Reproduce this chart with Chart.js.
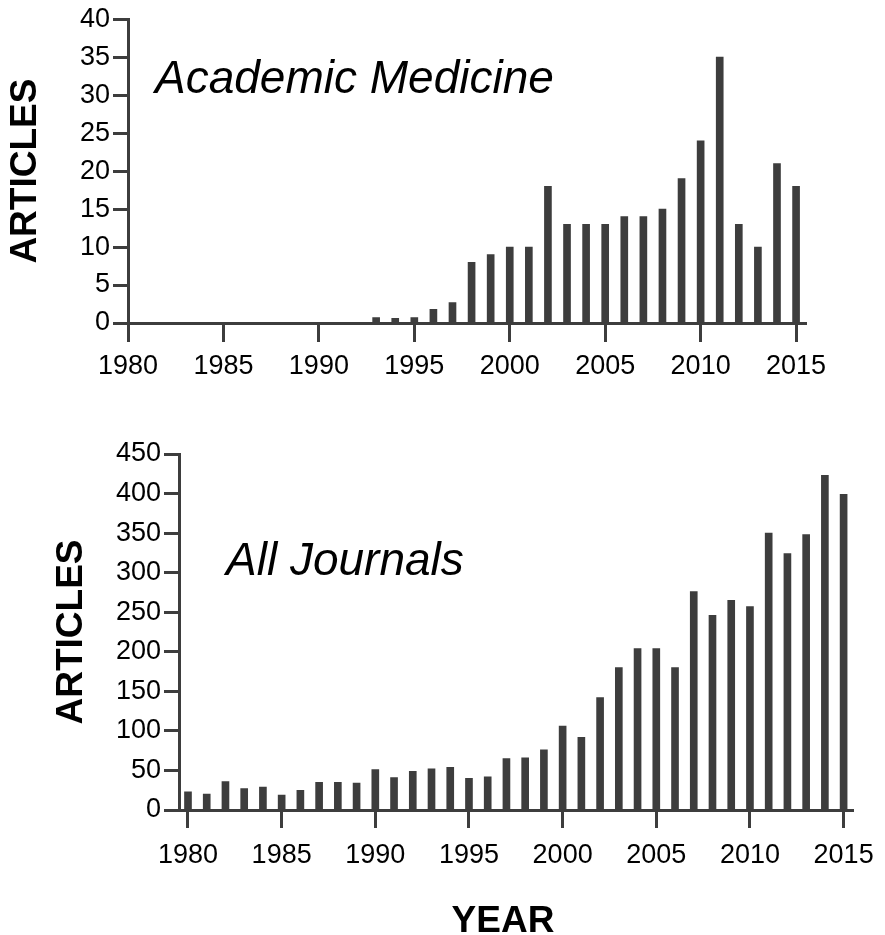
<!DOCTYPE html>
<html>
<head>
<meta charset="utf-8">
<script src="https://cdn.jsdelivr.net/npm/chart.js@4.4.0/dist/chart.umd.min.js"></script>
<style>
  html, body { margin: 0; padding: 0; background: #fff; }
  #wrap { position: relative; width: 885px; height: 935px; }
  canvas { position: absolute; left: 0; }
  #top { top: 0; }
  #bottom { top: 420px; }
</style>
</head>
<body>
<div id="wrap">
  <canvas id="top" width="885" height="390"></canvas>
  <canvas id="bottom" width="885" height="515"></canvas>
</div>
<script>
// Academic Medicine, articles per year
const acadYears = [1993, 1994, 1995, 1996, 1997, 1998, 1999, 2000, 2001, 2002, 2003, 2004,
                   2005, 2006, 2007, 2008, 2009, 2010, 2011, 2012, 2013, 2014, 2015];
const acadArticles = [0.7, 0.6, 0.7, 1.8, 2.7, 8, 9, 10, 10, 18, 13, 13,
                      13, 14, 14, 15, 19, 24, 35, 13, 10, 21, 18];

// All journals, articles per year
const allYears = [1980, 1981, 1982, 1983, 1984, 1985, 1986, 1987, 1988, 1989, 1990, 1991,
                  1992, 1993, 1994, 1995, 1996, 1997, 1998, 1999, 2000, 2001, 2002, 2003,
                  2004, 2005, 2006, 2007, 2008, 2009, 2010, 2011, 2012, 2013, 2014, 2015];
const allArticles = [23, 20, 36, 27, 29, 19, 25, 35, 35, 34, 51, 41,
                     49, 52, 54, 40, 42, 65, 66, 76, 106, 92, 142, 180,
                     204, 204, 180, 276, 246, 265, 257, 350, 324, 348, 423, 399];

// tick labels
const yearTicks = [1980, 1985, 1990, 1995, 2000, 2005, 2010, 2015];
const acadTicks = [0, 5, 10, 15, 20, 25, 30, 35, 40];
const allTicks = [0, 50, 100, 150, 200, 250, 300, 350, 400, 450];

const ink = '#3d3d3d';
const family = '"Liberation Sans", Arial, Helvetica, sans-serif';
Chart.defaults.font.family = family;
Chart.defaults.color = '#000';

// free text written on the canvas (panel names, x axis name)
const captions = {
  id: 'captions',
  afterDraw(chart, args, opts) {
    const ctx = chart.ctx;
    ctx.save();
    ctx.fillStyle = '#000';
    ctx.textBaseline = 'alphabetic';
    for (const c of opts.items) {
      ctx.font = c.font + ' ' + family;
      ctx.textAlign = c.align || 'left';
      ctx.fillText(c.text, c.x, c.y);
    }
    ctx.restore();
  }
};

function makeChart(id, years, values, o) {
  return new Chart(document.getElementById(id), {
    type: 'bar',
    data: {
      datasets: [{
        data: years.map((y, i) => ({ x: y, y: values[i] })),
        backgroundColor: ink,
        barThickness: 7
      }]
    },
    options: {
      responsive: false,
      animation: false,
      devicePixelRatio: 1,
      layout: { padding: { top: o.padTop, right: o.padRight, left: 0, bottom: 0 } },
      plugins: {
        legend: { display: false },
        tooltip: { enabled: false },
        captions: { items: o.captions }
      },
      scales: {
        x: {
          type: 'linear',
          min: o.xMin,
          max: o.xMax,
          offset: false,
          afterBuildTicks: s => { s.ticks = yearTicks.map(v => ({ value: v })); },
          afterFit: s => { s.height = o.xHeight; },
          grid: { offset: false, drawOnChartArea: false, tickLength: o.xTickLen, tickColor: ink, tickWidth: 3 },
          border: { color: ink, width: 3 },
          ticks: {
            font: { size: 27 }, padding: o.xTickPad, maxRotation: 0, autoSkip: false,
            callback: v => String(v)
          }
        },
        y: {
          min: 0,
          max: o.yTicks[o.yTicks.length - 1],
          afterBuildTicks: s => { s.ticks = o.yTicks.map(v => ({ value: v })); },
          afterFit: s => { s.width = o.yWidth; },
          grid: { drawOnChartArea: false, tickLength: 15, tickColor: ink, tickWidth: 3 },
          border: { color: ink, width: 3 },
          ticks: { font: { size: 27 }, padding: 3 },
          title: {
            display: true, text: 'ARTICLES',
            font: { size: 37, weight: 'bold', lineHeight: 1 },
            padding: { top: o.yTitlePad, bottom: 0 }
          }
        }
      }
    },
    plugins: [captions]
  });
}

makeChart('top', acadYears, acadArticles, {
  padTop: 18, padRight: 79, xMin: 1980, xMax: 2015.52, xHeight: 67,
  xTickLen: 19, xTickPad: 8,
  yWidth: 128, yTitlePad: 7, yTicks: acadTicks,
  captions: [{ text: 'Academic Medicine', x: 155, y: 93, font: 'italic 46px' }]
});

makeChart('bottom', allYears, allArticles, {
  padTop: 34, padRight: 24, xMin: 1979.52, xMax: 2015.53, xHeight: 125,
  xTickLen: 18, xTickPad: 11,
  yWidth: 179, yTitlePad: 53, yTicks: allTicks,
  captions: [
    { text: 'All Journals', x: 226, y: 155, font: 'italic 46px' },
    { text: 'YEAR', x: 503, y: 512, font: 'bold 37px', align: 'center' }
  ]
});
</script>
</body>
</html>
